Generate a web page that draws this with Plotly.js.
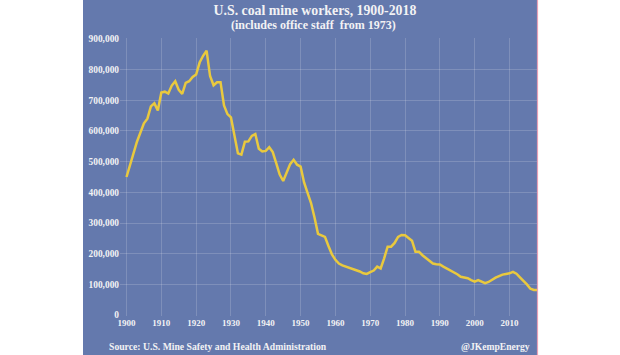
<!DOCTYPE html>
<html>
<head>
<meta charset="utf-8">
<script src="https://cdn.plot.ly/plotly-3.0.1.min.js"></script>
<style>
html,body{margin:0;padding:0;background:#ffffff;}
#chart{width:620px;height:355px;}
</style>
</head>
<body>
<div id="chart"></div>
<script>
// Data (thousands, converted to workers)
const years = [];
for (let y = 1900; y <= 2018; y++) years.push(y);
const workersK = [
  450, 490, 525, 565, 595, 625, 640, 680, 690, 667,
  725, 728, 722, 748, 762, 734, 721, 757, 762, 776,
  784, 823, 845, 862, 779, 749, 759, 759, 683, 655,
  644, 590, 527, 523, 565, 566, 584, 590, 542, 533,
  535, 547, 531, 495, 458, 437, 463, 492, 506, 490,
  484, 432, 398, 365, 318, 265, 260, 255, 225, 198,
  180, 168, 162, 158, 155, 150, 147, 142, 136, 134,
  140, 145, 158, 152, 185, 223, 223, 235, 255, 261,
  260, 252, 242, 206, 206, 195, 185, 176, 168, 166,
  165, 158, 152, 146, 141, 133, 125, 122, 120, 114,
  109, 114, 110, 104, 108, 116, 122, 127, 132, 134,
  136, 141, 135, 123, 112, 100, 86, 82, 82
];
const workers = workersK.map(v => v * 1000);

const yTickVals = [0, 100000, 200000, 300000, 400000, 500000, 600000, 700000, 800000, 900000];
const yTickText = ["0", "100,000", "200,000", "300,000", "400,000", "500,000", "600,000", "700,000", "800,000", "900,000"];
const xTickVals = [1900, 1910, 1920, 1930, 1940, 1950, 1960, 1970, 1980, 1990, 2000, 2010];
const xTickText = ["1900", "1910", "1920", "1930", "1940", "1950", "1960", "1970", "1980", "1990", "2000", "2010"];

const titleText = "U.S. coal mine workers, 1900-2018";
const subtitleText = "(includes office staff&nbsp; from 1973)";
const sourceText = "Source: U.S. Mine Safety and Health Administration";
const creditText = "@JKempEnergy";

const panelBlue = "#6479ad";
const txt = "#f2f2f4";
const serif = "Liberation Serif, DejaVu Serif, serif";

const trace = {
  x: years, y: workers, type: "scatter", mode: "lines",
  line: {color: "#e9c93e", width: 2.5},
  hoverinfo: "skip"
};

const layout = {
  width: 620, height: 355,
  margin: {l: 120, r: 83, t: 38, b: 39, pad: 0},
  paper_bgcolor: "#ffffff",
  plot_bgcolor: "rgba(0,0,0,0)",
  showlegend: false,
  font: {family: serif, color: txt},
  title: {
    text: titleText,
    font: {family: serif, size: 13.8, color: txt, weight: "bold"},
    x: 0.508, xref: "container", xanchor: "center",
    y: 1 - 10 / 355, yref: "container", yanchor: "middle"
  },
  xaxis: {
    range: [1898.13, 2017.9],
    tickvals: xTickVals, ticktext: xTickText,
    showgrid: true, gridcolor: "rgba(255,255,255,0.17)", gridwidth: 1,
    zeroline: false, showline: false, ticks: "",
    tickfont: {family: serif, size: 9, color: txt, weight: "bold"}
  },
  yaxis: {
    range: [-3000, 903000],
    tickvals: yTickVals, ticktext: yTickText,
    showgrid: true, gridcolor: "rgba(255,255,255,0.17)", gridwidth: 1,
    zeroline: false, showline: false, ticks: "",
    tickfont: {family: serif, size: 9.4, color: txt, weight: "bold"}
  },
  shapes: [
    {type: "rect", xref: "paper", yref: "paper",
     x0: (83 - 120) / 417, x1: 1.0, y0: (316 - 355) / 278, y1: 316 / 278,
     fillcolor: panelBlue, line: {width: 0}, layer: "below"},
    {type: "line", xref: "paper", yref: "paper",
     x0: (537.5 - 120) / 417, x1: (537.5 - 120) / 417, y0: (316 - 355) / 278, y1: 316 / 278,
     line: {color: "#e7a1b6", width: 1.2}, layer: "above"}
  ],
  annotations: [
    {text: subtitleText, xref: "paper", yref: "paper",
     x: (313 - 120) / 417, y: (316 - 25) / 278, xanchor: "center", yanchor: "middle",
     showarrow: false, font: {family: serif, size: 12, color: txt, weight: "bold"}},
    {text: sourceText, xref: "paper", yref: "paper",
     x: (107 - 120) / 417, y: (316 - 346) / 278, xanchor: "left", yanchor: "middle",
     showarrow: false, font: {family: serif, size: 9.7, color: txt, weight: "bold"}},
    {text: creditText, xref: "paper", yref: "paper",
     x: (532 - 120) / 417, y: (316 - 346) / 278, xanchor: "right", yanchor: "middle",
     showarrow: false, font: {family: serif, size: 9.6, color: txt, weight: "bold"}}
  ]
};

Plotly.newPlot("chart", [trace], layout, {displayModeBar: false, staticPlot: true});
</script>
</body>
</html>
